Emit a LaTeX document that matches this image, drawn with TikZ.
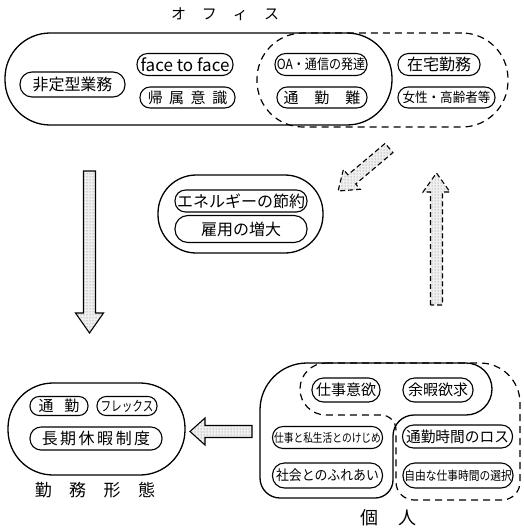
\documentclass[tikz,border=0pt]{standalone}
\usepackage{fontspec}
\usepackage{graphicx}
\setmainfont{Noto Sans CJK JP}
\usetikzlibrary{patterns}
\newcommand{\fs}[1]{\fontsize{#1}{#1}\selectfont}
\newcommand{\hsc}[2]{\scalebox{#1}[1]{#2}}
\tikzset{
  every node/.style={inner sep=0pt, outer sep=0pt},
  pill/.style 2 args={draw, line width=1.1pt, minimum width=#1pt, minimum height=#2pt, rounded corners={0.48pt*#2}},
  stad/.style 2 args={draw, line width=1.3pt, minimum width=#1pt, minimum height=#2pt, rounded corners={0.49pt*#2}},
  dashline/.style={line width=1.2pt, dash pattern=on 7pt off 5pt},
  blockarrow/.style={line width=1.1pt, preaction={fill=black!6}, pattern=dots, pattern color=black!55, line join=miter},
  dashedarrow/.style={blockarrow, dash pattern=on 5pt off 3pt},
}
\begin{document}
\begin{tikzpicture}[x=1pt,y=-1pt]
\useasboundingbox (0,0) rectangle (523,528);

% ---------- top: office ----------
\node[font=\fs{15}] (lofc) at (225,14) {オ\hspace{16pt}フ\hspace{16pt}ィ\hspace{16pt}ス};
\node[stad={251}{94}, dashline] (officeD) at (382.5,80) {};
\node[stad={387}{92}] (office) at (198.5,79) {};

\node[pill={105}{25}, font=\fs{16}] (hitei) at (72.5,84.5) {非定型業務};
\node[pill={96}{22}, font=\fs{17}] (face) at (185,64.5) {face to face};
\node[pill={95}{21}, font=\fs{15}] (kizoku) at (187.5,97.5) {帰\hspace{6.5pt}属\hspace{6.5pt}意\hspace{6.5pt}識};
\node[pill={92}{22}, font=\fs{14}] (oa) at (321,64.5) {\hsc{0.86}{OA・通信の発達}};
\node[pill={90}{21}, font=\fs{15}] (tsukin) at (322,97.5) {通\hspace{16pt}勤\hspace{16pt}難};
\node[pill={82}{22}, font=\fs{16}] (zaitaku) at (439,64.5) {在宅勤務};
\node[pill={97}{21}, font=\fs{13.5}] (josei) at (446.5,97.5) {\hsc{0.93}{女性・高齢者等}};

% ---------- middle ----------
\node[stad={165}{78}] (mid) at (240.5,214) {};
\node[pill={132}{22}, font=\fs{16}] (energy) at (241,201) {エネルギーの節約};
\node[pill={132}{27}, font=\fs{16}] (koyo) at (241,229) {雇用の増大};

% ---------- arrows ----------
\path[blockarrow, draw] (83.5,171) -- (95.5,171) -- (95.5,313) -- (103.5,313) -- (89.5,333) -- (75.5,313) -- (83.5,313) -- cycle;
\path[blockarrow, draw] (252,425.5) -- (205,425.5) -- (205,418) -- (190,431.5) -- (205,445) -- (205,437.5) -- (252,437.5) -- cycle;
\path[dashedarrow, draw] (430.5,305) -- (430.5,192) -- (423,192) -- (436.5,173) -- (450,192) -- (442.5,192) -- (442.5,305) -- cycle;
\path[dashedarrow, draw] (385.1,143.4) -- (347.9,174.8) -- (343.4,169.5) -- (338,191) -- (360.2,189.3) -- (355.7,184.0) -- (392.9,152.6) -- cycle;

% ---------- bottom left ----------
\node[stad={177}{92}] (kinmu) at (96.5,429) {};
\node[pill={58}{19}, font=\fs{15}] (tk) at (59,406) {通\hspace{11pt}勤};
\node[pill={60}{19}, font=\fs{14}] (flex) at (127,406) {\hsc{0.76}{フレックス}};
\node[pill={132}{23}, font=\fs{16}] (choki) at (96,438.5) {長\hspace{2.5pt}期\hspace{2.5pt}休\hspace{2.5pt}暇\hspace{2.5pt}制\hspace{2.5pt}度};
\node[font=\fs{17}] (lkinmu) at (95,490) {勤\hspace{17.5pt}務\hspace{17.5pt}形\hspace{17.5pt}態};

% ---------- bottom right ----------
\draw[line width=1.3pt] (307,363) -- (466,363) arc[start angle=90, end angle=-90, radius=26pt]
  -- (414,415) arc[start angle=90, end angle=180, radius=21pt]
  -- (393,480) arc[start angle=0, end angle=-90, radius=18pt]
  -- (280,498) arc[start angle=-90, end angle=-180, radius=20pt]
  -- (260,410) arc[start angle=180, end angle=90, radius=47pt] -- cycle;
\draw[dashline] (326,363) -- (480,363) arc[start angle=90, end angle=0, radius=40pt]
  -- (520,482) arc[start angle=0, end angle=-90, radius=18pt]
  -- (414,500) arc[start angle=-90, end angle=-180, radius=18pt]
  -- (396,430) arc[start angle=0, end angle=90, radius=15pt]
  -- (326,415) arc[start angle=-90, end angle=-270, radius=26pt] -- cycle;

\node[pill={68}{24}, font=\fs{15}] (iyoku) at (346,390) {仕事意欲};
\node[pill={70}{24}, font=\fs{15}] (yoka) at (438,390) {余暇欲求};
\node[pill={110}{22}, font=\fs{12}] (kejime) at (327.5,437.5) {\hsc{0.81}{仕事と私生活とのけじめ}};
\node[pill={110}{25}, font=\fs{14}] (fureai) at (327.5,475.5) {\hsc{0.92}{社会とのふれあい}};
\node[pill={110}{23}, font=\fs{15}] (loss) at (457.5,436.5) {\hsc{0.98}{通勤時間のロス}};
\node[pill={110}{25}, font=\fs{12.5}] (jiyu) at (458,475.5) {\hsc{0.86}{自由な仕事時間の選択}};
\node[font=\fs{18}] (lkojin) at (388,518) {個\hspace{20pt}人};
\end{tikzpicture}
\end{document}
